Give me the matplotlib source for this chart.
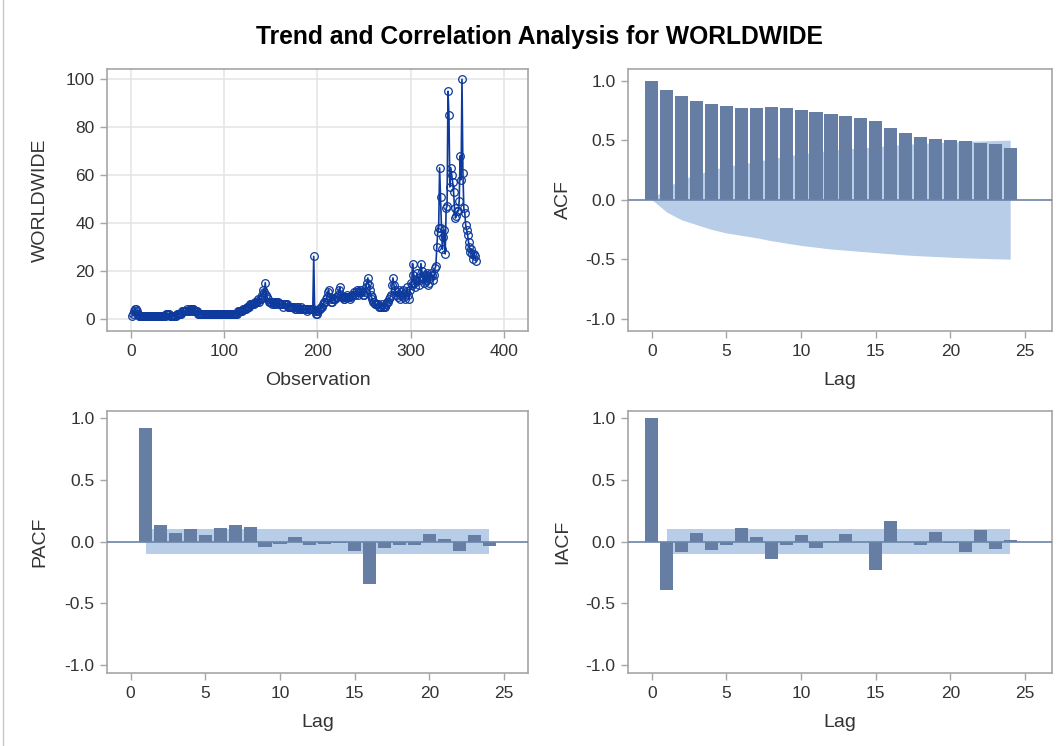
import numpy as np
import matplotlib
matplotlib.use("Agg")
import matplotlib.pyplot as plt
from matplotlib.lines import Line2D

# ==========================================
# DATA
# ==========================================
WORLDWIDE = [
    1, 2, 3, 4, 4, 3, 2, 2, 1, 1,
    1, 1, 1, 1, 1, 1, 1, 1, 1, 1,
    1, 1, 1, 1, 1, 1, 1, 1, 1, 1,
    1, 1, 1, 1, 1, 1, 1, 2, 2, 2,
    2, 1, 1, 1, 1, 1, 1, 1, 2, 2,
    2, 2, 2, 2, 3, 3, 3, 3, 3, 4,
    3, 3, 4, 4, 3, 4, 4, 3, 3, 3,
    3, 2, 2, 2, 2, 2, 2, 2, 2, 2,
    2, 2, 2, 2, 2, 2, 2, 2, 2, 2,
    2, 2, 2, 2, 2, 2, 2, 2, 2, 2,
    2, 2, 2, 2, 2, 2, 2, 2, 2, 2,
    2, 2, 2, 2, 3, 3, 3, 3, 3, 4,
    4, 4, 4, 5, 5, 5, 5, 6, 6, 6,
    6, 6, 7, 7, 7, 8, 7, 8, 8, 9,
    10, 12, 11, 15, 10, 9, 8, 7, 7, 7,
    6, 7, 6, 7, 7, 6, 7, 7, 6, 6,
    6, 6, 5, 6, 6, 6, 6, 5, 5, 5,
    5, 5, 5, 5, 5, 4, 4, 5, 5, 4,
    4, 5, 4, 4, 4, 4, 4, 4, 3, 4,
    4, 4, 4, 4, 4, 26, 3, 2, 2, 3,
    3, 4, 4, 5, 5, 6, 7, 7, 8, 9,
    11, 12, 9, 8, 7, 7, 8, 8, 8, 9,
    9, 10, 12, 13, 10, 9, 9, 8, 8, 9,
    9, 10, 9, 9, 8, 9, 10, 10, 11, 10,
    11, 12, 11, 10, 11, 12, 12, 11, 10, 10,
    11, 13, 15, 17, 14, 12, 10, 9, 8, 7,
    7, 6, 6, 6, 6, 5, 5, 5, 6, 5,
    5, 5, 6, 6, 7, 7, 8, 9, 10, 14,
    17, 14, 12, 10, 11, 9, 12, 10, 8, 11,
    10, 12, 9, 8, 11, 13, 10, 8, 12, 15,
    14, 23, 18, 15, 13, 16, 19, 17, 14, 16,
    23, 20, 17, 15, 18, 16, 19, 18, 14, 15,
    17, 19, 18, 16, 18, 21, 22, 30, 36, 38,
    63, 51, 38, 29, 34, 37, 27, 46, 47, 95,
    85, 55, 63, 60, 57, 53, 46, 42, 43, 45,
    45, 49, 68, 58, 100, 61, 46, 44, 39, 37,
    35, 32, 30, 28, 29, 27, 25, 27, 26, 24,
]

LAGS = list(range(0, 25))
ACF = [1.0, 0.921, 0.871, 0.831, 0.806, 0.784, 0.772, 0.772, 0.778, 0.767,
       0.750, 0.739, 0.722, 0.699, 0.683, 0.660, 0.601, 0.562, 0.528, 0.508,
       0.500, 0.492, 0.480, 0.469, 0.435]
ACF_BAND = [0.0, 0.104, 0.17, 0.21, 0.25, 0.28, 0.30, 0.32, 0.345, 0.365,
            0.385, 0.40, 0.415, 0.425, 0.435, 0.445, 0.455, 0.465, 0.472, 0.478,
            0.484, 0.489, 0.493, 0.497, 0.50]

PACF_LAGS = list(range(1, 25))
PACF = [0.919, 0.135, 0.068, 0.103, 0.049, 0.111, 0.138, 0.116, -0.041, -0.019,
        0.035, -0.032, -0.019, -0.014, -0.073, -0.343, -0.054, -0.032, -0.027, 0.059,
        0.019, -0.081, 0.054, -0.035]

IACF = [1.0, -0.393, -0.089, 0.073, -0.065, -0.030, 0.108, 0.038, -0.140, -0.030,
        0.054, -0.051, 0.004, 0.062, -0.004, -0.229, 0.167, -0.004, -0.030, 0.075,
        -0.013, -0.083, 0.092, -0.057, 0.016]

CI_WHITE_NOISE = 0.104   # 2 / sqrt(n)

# ==========================================
# STYLE
# ==========================================
plt.rcParams['font.family'] = ['Liberation Sans', 'DejaVu Sans']
BAR_COLOR = '#667ea3'
BAND_COLOR = '#b8cde7'
LINE_COLOR = '#0d3a9c'
FRAME_COLOR = '#a6a6a6'
TEXT_COLOR = '#333333'
TICK_SIZE = 12.5
LABEL_SIZE = 14

fig = plt.figure(figsize=(10.61, 7.46), dpi=100)
W, H = 1061, 746


def px_axes(left, top, right, bottom):
    return fig.add_axes([left / W, 1 - bottom / H, (right - left) / W, (bottom - top) / H])


def style(ax, xlab, ylab, ylab_x):
    for sp in ax.spines.values():
        sp.set_color(FRAME_COLOR)
        sp.set_linewidth(1.2)
    ax.tick_params(direction='out', length=5, width=1, color=FRAME_COLOR,
                   labelcolor=TEXT_COLOR, labelsize=TICK_SIZE, pad=4)
    ax.set_xlabel(xlab, fontsize=LABEL_SIZE, color=TEXT_COLOR, va='center')
    ax.set_ylabel(ylab, fontsize=LABEL_SIZE, color=TEXT_COLOR, va='center')
    ax.xaxis.set_label_coords(0.5, -0.189)
    ax.yaxis.set_label_coords(ylab_x, 0.5)


ax_ts = px_axes(107, 69, 528, 331)
ax_acf = px_axes(628, 69, 1052, 331)
ax_pacf = px_axes(107, 411, 528, 673)
ax_iacf = px_axes(628, 411, 1052, 673)

# ---- series plot ----
obs = np.arange(1, len(WORLDWIDE) + 1)
ax_ts.plot(obs, WORLDWIDE, color=LINE_COLOR, lw=1.2, marker='o', ms=5.5,
           mfc='none', mec=LINE_COLOR, mew=0.9, zorder=3)
ax_ts.set_xlim(-25.7, 425.8)
ax_ts.set_ylim(-5.2, 104.3)
ax_ts.set_xticks([0, 100, 200, 300, 400])
ax_ts.set_yticks([0, 20, 40, 60, 80, 100])
ax_ts.grid(True, color='#e6e6e6', lw=1.2)
ax_ts.set_axisbelow(True)
style(ax_ts, 'Observation', 'WORLDWIDE', -0.159)


def corr_panel(ax, lags, vals, ylabel, band_x, band_lo, band_hi, ylim, ylab_x):
    ax.fill_between(band_x, band_lo, band_hi, color=BAND_COLOR, lw=0, zorder=1)
    ax.bar(lags, vals, width=0.88, color=BAR_COLOR, edgecolor='none', zorder=2)
    ax.axhline(0, color='#6a84a8', lw=1.2, zorder=3)
    ax.set_xlim(-1.59, 26.8)
    ax.set_ylim(*ylim)
    ax.set_xticks([0, 5, 10, 15, 20, 25])
    ax.set_yticks([-1.0, -0.5, 0.0, 0.5, 1.0])
    ax.set_yticklabels(['-1.0', '-0.5', '0.0', '0.5', '1.0'])
    style(ax, 'Lag', ylabel, ylab_x)


acf_band = np.array(ACF_BAND)
corr_panel(ax_acf, LAGS, ACF, 'ACF', LAGS, -acf_band, acf_band,
           (-1.104, 1.098), -0.153)

ci_x = [PACF_LAGS[0], PACF_LAGS[-1]]
corr_panel(ax_pacf, PACF_LAGS, PACF, 'PACF', ci_x,
           -CI_WHITE_NOISE, CI_WHITE_NOISE, (-1.067, 1.059), -0.159)
ax_pacf.set_xlim(-1.58, 26.6)

corr_panel(ax_iacf, LAGS, IACF, 'IACF', ci_x,
           -CI_WHITE_NOISE, CI_WHITE_NOISE, (-1.067, 1.059), -0.153)

fig.text(539 / W, 1 - 37 / H, 'Trend and Correlation Analysis for WORLDWIDE',
         ha='center', va='center', fontsize=17.7, fontweight='bold', color='black')

# thin frame line on the left edge, as in the reference
fig.add_artist(Line2D([3 / W, 3 / W], [0, 1], color='#c8c8c8', lw=1))

fig.savefig('out.png', dpi=100)
